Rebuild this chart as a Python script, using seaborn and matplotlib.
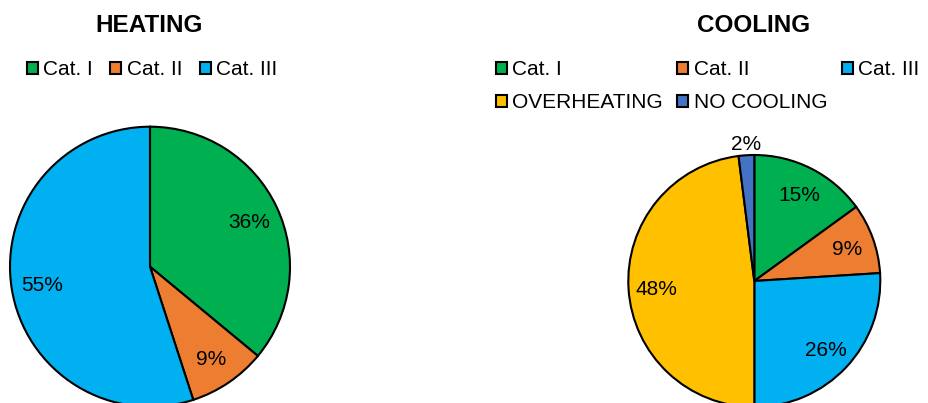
import numpy as np
import matplotlib
matplotlib.use("Agg")
import matplotlib.pyplot as plt
import seaborn as sns
from matplotlib.patches import Patch

# ---- data ----
heat_labels = ["Cat. I", "Cat. II", "Cat. III"]
heat_values = [36, 9, 55]
cool_labels = ["Cat. I", "Cat. II", "Cat. III", "OVERHEATING", "NO COOLING"]
cool_values = [15, 9, 26, 48, 2]
titles = ["HEATING", "COOLING"]

colors = {"Cat. I": "#00B050", "Cat. II": "#ED7D31", "Cat. III": "#00B0F0",
          "OVERHEATING": "#FFC000", "NO COOLING": "#4472C4"}

sns.set_theme(style="white")
plt.rcParams["font.family"] = ["Liberation Sans", "DejaVu Sans"]
plt.rcParams["text.color"] = "black"

W, H = 929, 403
fig = plt.figure(figsize=(W / 100, H / 100), dpi=100)
fig.patch.set_facecolor("white")


def make_axes(px0, px1, py_top, cx, cy, r):
    # axes spanning pixels [px0, px1] x [py_top, H], data unit = r pixels
    ax = fig.add_axes([px0 / W, 0, (px1 - px0) / W, (H - py_top) / H])
    return ax, ((px0 - cx) / r, (px1 - cx) / r), ((cy - H) / r, (cy - py_top) / r)


def draw_pie(ax, xlim, ylim, labels, values, outside_small=False):
    wedges, texts, autotexts = ax.pie(
        values, colors=[colors[l] for l in labels], startangle=90, counterclock=False,
        autopct=lambda p: f"{p:.0f}%", pctdistance=0.78,
        wedgeprops=dict(edgecolor="black", linewidth=1.5),
        textprops=dict(fontsize=15, color="black"))
    for w, t, v in zip(wedges, autotexts, values):
        t.set_va("center_baseline")
        if outside_small and v < 5:
            th = np.deg2rad((w.theta1 + w.theta2) / 2)
            t.set_position((1.1 * np.cos(th), 1.1 * np.sin(th)))
    ax.set_aspect("auto")
    ax.set_xlim(*xlim)
    ax.set_ylim(*ylim)
    ax.axis("off")
    return wedges


ax1, xl1, yl1 = make_axes(0, 320, 110, 150, 266.7, 140)
draw_pie(ax1, xl1, yl1, heat_labels, heat_values)

ax2, xl2, yl2 = make_axes(600, 929, 125, 754.3, 281, 126)
draw_pie(ax2, xl2, yl2, cool_labels, cool_values, outside_small=True)

# titles
fig.text(149.3 / W, 1 - 32.3 / H, titles[0], ha="center", va="baseline",
         fontsize=17.5, fontweight="bold", color="black")
fig.text(754 / W, 1 - 32.3 / H, titles[1], ha="center", va="baseline",
         fontsize=17.5, fontweight="bold", color="black")

leg_kw = dict(frameon=False, fontsize=15, handlelength=0.52, handleheight=0.5,
              handletextpad=0.26, borderpad=0, borderaxespad=0, labelcolor="black")

h_handles = [Patch(facecolor=colors[l], edgecolor="black", linewidth=1.5) for l in heat_labels]
fig.legend(h_handles, heat_labels, loc="upper left", ncol=3,
           bbox_to_anchor=(26.7 / W, 1 - 60 / H), columnspacing=0.85, **leg_kw)

# legend filled column by column: arrange so rows read Cat. I, Cat. II, Cat. III / OVERHEATING, NO COOLING
order = [0, 3, 1, 4, 2]
c_handles = [Patch(facecolor=colors[cool_labels[i]], edgecolor="black", linewidth=1.5) for i in order]
fig.legend(c_handles, [cool_labels[i] for i in order], loc="upper left", ncol=3,
           bbox_to_anchor=(496 / W, 1 - 60 / H), columnspacing=0.7,
           labelspacing=0.68, **leg_kw)

fig.savefig("out.png", dpi=100, facecolor="white")
